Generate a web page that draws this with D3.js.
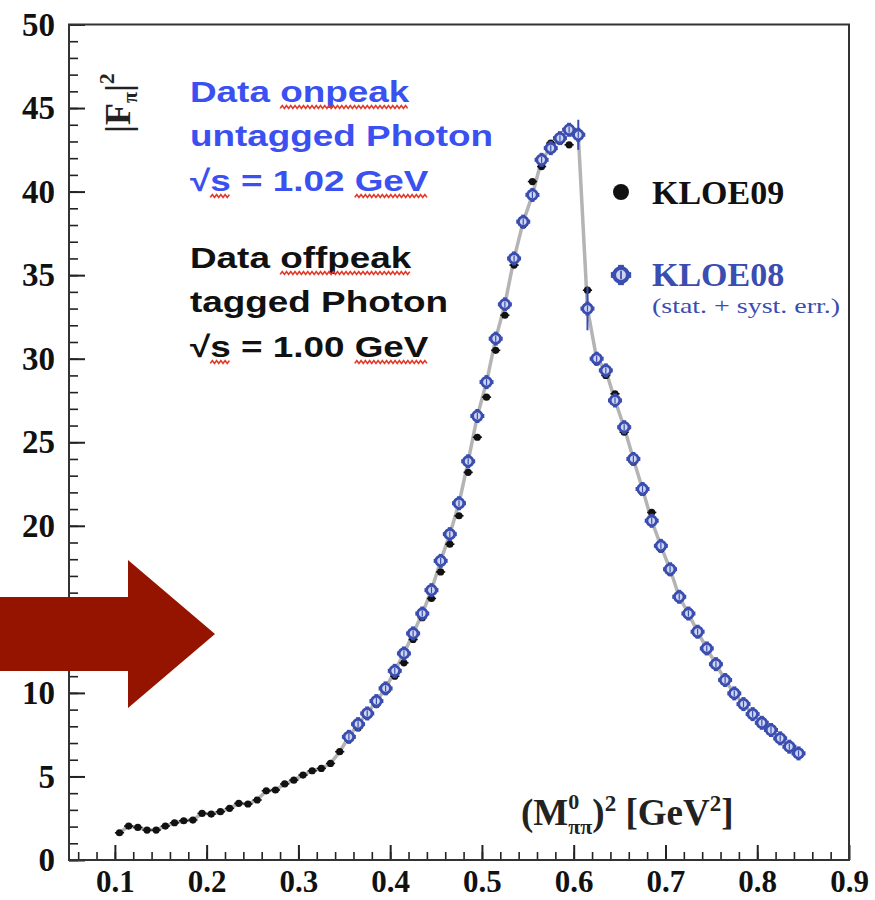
<!DOCTYPE html>
<html>
<head>
<meta charset="utf-8">
<script src="https://cdn.jsdelivr.net/npm/d3@7"></script>
<style>
  body { margin: 0; background: #fff; }
  svg { display: block; }
</style>
</head>
<body>
<div id="chart"></div>
<script>
// pion form factor |F_pi|^2 vs (M_pipi)^2 -- KLOE09 vs KLOE08

// bin centres (GeV^2) and values
var kloe09X = [0.105,0.115,0.125,0.135,0.145,0.155,0.165,0.175,0.185,0.195,
               0.205,0.215,0.225,0.235,0.245,0.255,0.265,0.275,0.285,0.295,
               0.305,0.315,0.325,0.335,0.345,0.355,0.365,0.375,0.385,0.395,
               0.405,0.415,0.425,0.435,0.445,0.455,0.465,0.475,0.485,0.495,
               0.505,0.515,0.525,0.535,0.545,0.555,0.565,0.575,0.585,0.595,
               0.605,0.615,0.625,0.635,0.645,0.655,0.665,0.675,0.685,0.695,
               0.705,0.715,0.725,0.735,0.745,0.755,0.765,0.775,0.785,0.795,
               0.805,0.815,0.825,0.835,0.845];
var kloe09Y = [1.63,2.03,1.95,1.79,1.79,2.03,2.23,2.35,2.39,2.79,
               2.75,2.89,3.09,3.39,3.35,3.59,4.14,4.19,4.55,4.78,
               5.08,5.34,5.48,5.78,6.48,7.2,7.9,8.6,9.3,10.1,
               11.0,11.8,13.2,14.5,15.65,17.24,18.9,20.6,23.2,25.3,
               27.7,30.5,32.6,35.6,38.0,40.6,41.5,42.9,43.0,42.8,
               43.3,34.1,29.8,29.0,27.9,25.6,23.8,22.0,20.8,18.6,
               17.2,15.6,14.6,13.5,12.5,11.6,10.7,9.9,9.25,8.65,
               8.15,7.7,7.2,6.75,6.35];

var kloe08X = [0.355,0.365,0.375,0.385,0.395,0.405,0.415,0.425,0.435,0.445,
               0.455,0.465,0.475,0.485,0.495,0.505,0.515,0.525,0.535,0.545,
               0.555,0.565,0.575,0.585,0.595,0.605,0.615,0.625,0.635,0.645,
               0.655,0.665,0.675,0.685,0.695,0.705,0.715,0.725,0.735,0.745,
               0.755,0.765,0.775,0.785,0.795,0.805,0.815,0.825,0.835,0.845];
var kloe08Y = [7.37,8.13,8.77,9.51,10.27,11.32,12.36,13.56,14.75,16.15,
               17.9,19.5,21.35,23.86,26.57,28.6,31.2,33.25,36.0,38.2,
               39.8,41.9,42.6,43.2,43.7,43.4,33.0,30.0,29.3,27.5,
               25.9,24.0,22.2,20.3,18.8,17.4,15.75,14.75,13.66,12.66,
               11.72,10.77,9.97,9.33,8.73,8.21,7.78,7.28,6.78,6.38];
var kloe08Err = [0.2,0.2,0.2,0.2,0.2,0.2,0.2,0.2,0.2,0.25,
                 0.25,0.25,0.3,0.3,0.3,0.3,0.3,0.3,0.3,0.3,
                 0.3,0.3,0.3,0.3,0.3,0.9,1.3,0.3,0.3,0.3,
                 0.3,0.3,0.25,0.25,0.25,0.25,0.2,0.2,0.2,0.2,
                 0.2,0.2,0.2,0.2,0.2,0.2,0.2,0.2,0.2,0.2];
var binHalf = 0.005;

var xMajor = [0.1,0.2,0.3,0.4,0.5,0.6,0.7,0.8,0.9];
var yMajor = [0,5,10,15,20,25,30,35,40,45,50];

var blueLines = ["Data onpeak", "untagged Photon", "\u221As = 1.02 GeV"];
var blackLines = ["Data offpeak", "tagged Photon", "\u221As = 1.00 GeV"];
// words flagged by the spell checker: [line, word]
var blueFlags = [[0, "onpeak"], [2, "s"], [2, "GeV"]];
var blackFlags = [[0, "offpeak"], [2, "s"], [2, "GeV"]];

var legendNames = ["KLOE09", "KLOE08"];

var W = 875, H = 900;
var margin = {left: 69, right: 26, top: 24.5, bottom: 40};
var blue = "#3a4db0";
var serif = "'Liberation Serif','Times New Roman',serif";
var sans = "'Liberation Sans',Arial,sans-serif";

var svg = d3.select("#chart").append("svg")
    .attr("width", W).attr("height", H);

var x = d3.scaleLinear().domain([0.05, 0.9]).range([margin.left, W - margin.right]);
var y = d3.scaleLinear().domain([0, 50]).range([H - margin.bottom, margin.top]);

// minor ticks
svg.append("g")
   .attr("transform", "translate(" + margin.left + ",0)")
   .call(d3.axisLeft(y).tickValues(d3.range(0, 51, 1)).tickSizeInner(-9).tickSizeOuter(0).tickFormat(""))
   .call(function(g){ g.select(".domain").remove(); g.selectAll("line").attr("stroke", "#222").attr("stroke-width", 1.6); });

svg.append("g")
   .attr("transform", "translate(0," + y(0) + ")")
   .call(d3.axisBottom(x).tickValues(d3.range(0.06, 0.9, 0.02)).tickSizeInner(-8).tickSizeOuter(0).tickFormat(""))
   .call(function(g){ g.select(".domain").remove(); g.selectAll("line").attr("stroke", "#222").attr("stroke-width", 1.6); });

// major ticks + labels
var yAxis = svg.append("g")
   .attr("transform", "translate(" + margin.left + ",0)")
   .call(d3.axisLeft(y).tickValues(yMajor).tickSizeInner(-16).tickSizeOuter(0).tickPadding(14).tickFormat(d3.format("d")));
yAxis.select(".domain").remove();
yAxis.selectAll("line").attr("stroke", "#222").attr("stroke-width", 2);
yAxis.selectAll("text")
     .attr("font-family", serif).attr("font-weight", "bold").attr("font-size", 33)
     .attr("fill", "#111");

var xAxis = svg.append("g")
   .attr("transform", "translate(0," + y(0) + ")")
   .call(d3.axisBottom(x).tickValues(xMajor).tickSizeInner(-15).tickSizeOuter(0).tickPadding(10).tickFormat(d3.format(".1f")));
xAxis.select(".domain").remove();
xAxis.selectAll("line").attr("stroke", "#222").attr("stroke-width", 2);
xAxis.selectAll("text")
     .attr("font-family", serif).attr("font-weight", "bold").attr("font-size", 31)
     .attr("fill", "#111");

// frame
svg.append("rect")
   .attr("x", x(0.05)).attr("y", y(50))
   .attr("width", x(0.9) - x(0.05)).attr("height", y(0) - y(50))
   .attr("fill", "none").attr("stroke", "#333").attr("stroke-width", 2);

// gray line through the data (KLOE09 below the KLOE08 range, KLOE08 above)
var linePts = [];
kloe09X.forEach(function(v, i){ if (v < kloe08X[0]) linePts.push([v, kloe09Y[i]]); });
kloe08X.forEach(function(v, i){ linePts.push([v, kloe08Y[i]]); });
svg.append("path")
   .datum(linePts)
   .attr("d", d3.line().x(function(d){ return x(d[0]); }).y(function(d){ return y(d[1]); }))
   .attr("fill", "none").attr("stroke", "#b4b4b4").attr("stroke-width", 3.5);

// KLOE09 points
var k09 = svg.append("g").selectAll("g")
    .data(kloe09X.map(function(v, i){ return {x: v, y: kloe09Y[i]}; }))
    .enter().append("g");
k09.append("line")
   .attr("x1", function(d){ return x(d.x - binHalf); })
   .attr("x2", function(d){ return x(d.x + binHalf); })
   .attr("y1", function(d){ return y(d.y); })
   .attr("y2", function(d){ return y(d.y); })
   .attr("stroke", "#111").attr("stroke-width", 1.6);
k09.append("circle")
   .attr("cx", function(d){ return x(d.x); })
   .attr("cy", function(d){ return y(d.y); })
   .attr("r", 3.6).attr("fill", "#111");

// KLOE08 marker: open circle with a small cross
function blueMarker(g, s) {
  g.append("line").attr("x1", -7*s).attr("x2", 7*s).attr("y1", 0).attr("y2", 0)
   .attr("stroke", blue).attr("stroke-width", 4*s);
  g.append("line").attr("x1", 0).attr("x2", 0).attr("y1", -7*s).attr("y2", 7*s)
   .attr("stroke", blue).attr("stroke-width", 4*s);
  g.append("circle").attr("r", 4.8*s)
   .attr("fill", "#cfd5f0").attr("stroke", blue).attr("stroke-width", 2.8*s);
  g.append("line").attr("x1", 0).attr("x2", 0).attr("y1", -3*s).attr("y2", 3*s)
   .attr("stroke", blue).attr("stroke-width", 1.2*s);
}

var k08 = svg.append("g").selectAll("g")
    .data(kloe08X.map(function(v, i){ return {x: v, y: kloe08Y[i], e: kloe08Err[i]}; }))
    .enter().append("g");
k08.append("line")
   .attr("x1", function(d){ return x(d.x); })
   .attr("x2", function(d){ return x(d.x); })
   .attr("y1", function(d){ return y(d.y - d.e); })
   .attr("y2", function(d){ return y(d.y + d.e); })
   .attr("stroke", blue).attr("stroke-width", 2);
k08.append("g")
   .attr("transform", function(d){ return "translate(" + x(d.x) + "," + y(d.y) + ")"; })
   .each(function(){ blueMarker(d3.select(this), 1); });

// legend
var leg = svg.append("g");
leg.append("circle").attr("cx", 621).attr("cy", 192).attr("r", 8).attr("fill", "#111");
leg.append("text").attr("x", 652).attr("y", 204).text(legendNames[0])
   .attr("font-family", serif).attr("font-weight", "bold").attr("font-size", 34).attr("fill", "#111");
blueMarker(leg.append("g").attr("transform", "translate(621,275)"), 1.45);
leg.append("text").attr("x", 652).attr("y", 286).text(legendNames[1])
   .attr("font-family", serif).attr("font-weight", "bold").attr("font-size", 34).attr("fill", blue);
leg.append("text").attr("x", 652).attr("y", 313).text("(stat. + syst. err.)")
   .attr("font-family", serif).attr("font-size", 22).attr("fill", blue)
   .attr("textLength", 188).attr("lengthAdjust", "spacingAndGlyphs");

// axis titles
var yTitle = svg.append("text")
   .attr("transform", "translate(130,133) rotate(-90)")
   .attr("font-family", serif).attr("font-weight", "bold").attr("font-size", 36).attr("fill", "#222");
yTitle.append("tspan").text("|F");
yTitle.append("tspan").attr("font-size", 20).attr("dy", 7).text("\u03C0");
yTitle.append("tspan").attr("dy", -7).text("|");
yTitle.append("tspan").attr("font-size", 22).attr("dy", -16).text("2");

var xTitle = svg.append("text")
   .attr("x", 521).attr("y", 825)
   .attr("font-family", serif).attr("font-weight", "bold").attr("font-size", 37).attr("fill", "#222");
xTitle.append("tspan").text("(M");
xTitle.append("tspan").attr("font-size", 22).attr("dy", -16).text("0");
xTitle.append("tspan").attr("font-size", 22).attr("dx", -11).attr("dy", 25).text("\u03C0\u03C0");
xTitle.append("tspan").attr("dy", -9).text(")");
xTitle.append("tspan").attr("font-size", 23).attr("dy", -14).text("2");
xTitle.append("tspan").attr("dy", 14).text(" [GeV");
xTitle.append("tspan").attr("font-size", 23).attr("dy", -14).text("2");
xTitle.append("tspan").attr("dy", 14).text("]");

// annotation blocks with spell-checker squiggles
function squiggle(g, x0, x1, yy) {
  var pts = [];
  for (var px = x0, k = 0; px <= x1; px += 1.7, k++) pts.push([px, yy + (k % 2 ? -1.4 : 1.4)]);
  g.append("path").attr("d", d3.line()(pts))
   .attr("fill", "none").attr("stroke", "#e23a2a").attr("stroke-width", 1.3);
}

function textBlock(lines, flags, baseY, color) {
  var g = svg.append("g").attr("transform", "translate(190,0) scale(1.25,1)");
  var nodes = lines.map(function(s, i){
    return g.append("text").attr("x", 0).attr("y", baseY + i*44.5)
      .attr("font-family", sans).attr("font-weight", "bold").attr("font-size", 29.5)
      .attr("fill", color).text(s).node();
  });
  flags.forEach(function(f){
    var node = nodes[f[0]], s = lines[f[0]];
    var start = s.lastIndexOf(f[1]);
    var x0 = start > 0 ? node.getSubStringLength(0, start) : 0;
    var w = node.getSubStringLength(start, f[1].length);
    squiggle(g, x0, x0 + w, baseY + f[0]*44.5 + 5);
  });
}
textBlock(blueLines, blueFlags, 102, "#3b50f0");
textBlock(blackLines, blackFlags, 268, "#111");

// red arrow on top of the axis
var ax = d3.path();
ax.moveTo(0, 597); ax.lineTo(128, 597); ax.lineTo(128, 560); ax.lineTo(215, 634);
ax.lineTo(128, 708); ax.lineTo(128, 671); ax.lineTo(0, 671); ax.closePath();
svg.append("path").attr("d", ax.toString()).attr("fill", "#941400");
</script>
</body>
</html>
